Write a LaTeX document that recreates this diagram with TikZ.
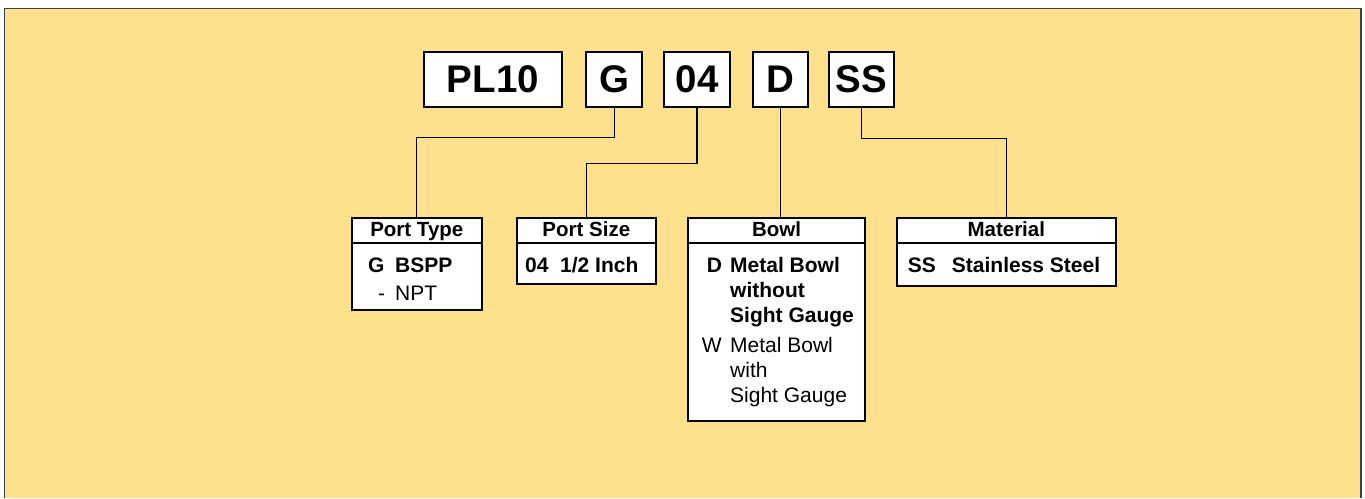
\documentclass[tikz,border=0pt]{standalone}
\usepackage{fontspec}
\setmainfont{Liberation Sans}
\definecolor{bg}{HTML}{FFE08F}
\begin{document}
\begin{tikzpicture}[x=1pt,y=-1pt,
 codebox/.style={draw=black, line width=2pt, fill=white, inner sep=0pt, font=\bfseries\fontsize{38.5}{40}\selectfont},
 catbox/.style={draw=black, line width=2pt, fill=white, inner sep=0pt},
 conn/.style={draw=black, line width=1.3pt},
 hd/.style={font=\bfseries\fontsize{20.5}{22}\selectfont, anchor=base, inner sep=0pt},
 bt/.style={font=\bfseries\fontsize{21}{22}\selectfont, anchor=base west, inner sep=0pt},
 lt/.style={font=\fontsize{21}{22}\selectfont, anchor=base west, inner sep=0pt},
]
\useasboundingbox (0,0) rectangle (1365,498);
\fill[bg] (4.5,8.5) rectangle (1361,498);
\draw[black!75, line width=1.5pt] (4.5,498) -- (4.5,8.5) -- (1361,8.5) -- (1361,498);

% code boxes
\node[codebox, minimum width=138.6pt, minimum height=55.3pt] (pl) at (493,79.3) {PL10};
\node[codebox, minimum width=56pt, minimum height=55.3pt] (g) at (614.3,79.3) {G};
\node[codebox, minimum width=65.4pt, minimum height=55.3pt] (o4) at (697,79.3) {04};
\node[codebox, minimum width=55.6pt, minimum height=55.3pt] (d) at (780.5,79.3) {D};
\node[codebox, minimum width=65pt, minimum height=55.3pt] (ss) at (861.5,79.3) {SS};

% category boxes
\node[catbox, minimum width=129.7pt, minimum height=92pt] (pt) at (416.8,263.7) {};
\node[catbox, minimum width=138.7pt, minimum height=66.3pt] (ps) at (586.3,250.8) {};
\node[catbox, minimum width=176.4pt, minimum height=203pt] (bw) at (776.5,319.2) {};
\node[catbox, minimum width=218.7pt, minimum height=68.6pt] (mat) at (1006.3,252) {};
\foreach \b in {pt,ps,bw,mat}
  \draw[line width=2pt] (\b.west |- 0,243.3) -- (\b.east |- 0,243.3);

% connectors
\draw[conn] (g.south) -- (g.south |- 0,137.7) -| (pt.north);
\draw[conn] (o4.south) -- (o4.south |- 0,163.7) -| (ps.north);
\draw[conn] (d.south) -- (d.south |- bw.north);
\draw[conn] (ss.south) -- (ss.south |- 0,138.7) -| (mat.north);

% headers
\node[hd] (h1) at (416.8,236.7) {Port Type};
\node[hd] (h2) at (586.3,236.7) {Port Size};
\node[hd] (h3) at (776.5,236.7) {Bowl};
\node[hd] (h4) at (1006.3,236.7) {Material};

% Port Type
\node[bt] (t1) at (368,272.7) {G};
\node[bt] (t2) at (395,272.7) {BSPP};
\node[lt] (t3) at (378,300) {-};
\node[lt] (t4) at (395,300) {NPT};

% Port Size
\node[bt] (s1) at (525,272.7) {04};
\node[bt] (s2) at (560,272.7) {1/2 Inch};

% Bowl
\node[bt] (b1) at (706.7,272.7) {D};
\node[bt] (b2) at (730,272.7) {Metal Bowl};
\node[bt] (b3) at (730,297.3) {without};
\node[bt] (b4) at (730,322.3) {Sight Gauge};
\node[lt] (b5) at (701.7,352.7) {W};
\node[lt] (b6) at (730,352.7) {Metal Bowl};
\node[lt] (b7) at (730,377.3) {with};
\node[lt] (b8) at (730,402.7) {Sight Gauge};

% Material
\node[bt] (m1) at (907.7,272.7) {SS};
\node[bt] (m2) at (951.7,272.7) {Stainless Steel};
\end{tikzpicture}
\end{document}
